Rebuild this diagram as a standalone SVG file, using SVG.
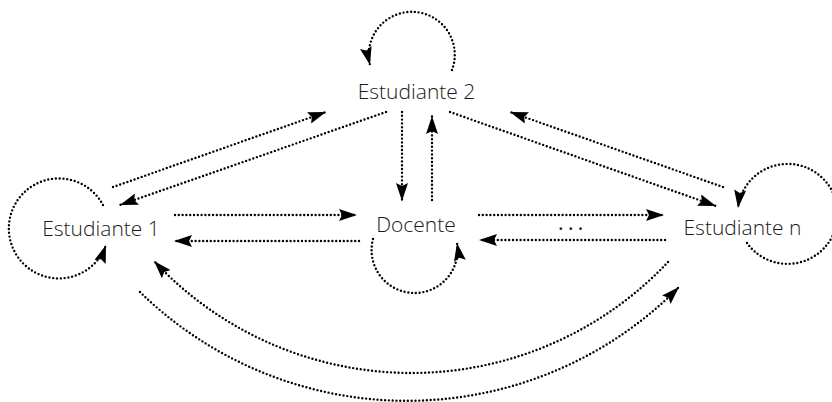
<svg xmlns="http://www.w3.org/2000/svg" width="832" height="402" viewBox="0 0 832 402">
  <style>
    .lbl { font-family: "Open Sans", "Noto Sans", "DejaVu Sans", sans-serif; font-weight: 300; font-size: 21px; fill: #1a1a1a; text-anchor: middle; }
    .dot { fill: none; stroke: #000; stroke-width: 2.4; stroke-linecap: round; stroke-dasharray: 0 3.8; }
    .arr { marker-end: url(#ah); }
  </style>
  <defs>
    <marker id="ah" viewBox="0 0 18 12" refX="18" refY="6" markerWidth="18" markerHeight="12" markerUnits="userSpaceOnUse" orient="auto">
      <path d="M0,0 L18,6 L0,12 L3,6 Z" fill="#000"/>
    </marker>
  </defs>
  <rect width="832" height="402" fill="#fff"/>
  <g id="connectors">
    <path class="dot arr" d="M113,187 L326,112"/>
    <path class="dot arr" d="M386,112 L120,205"/>
    <path class="dot arr" d="M175,215 L357,215"/>
    <path class="dot arr" d="M359,241 L174,241"/>
    <path class="dot arr" d="M479,215 L664,215"/>
    <path class="dot arr" d="M665,240 L479,240"/>
    <path class="dot arr" d="M402,112 L402,201"/>
    <path class="dot arr" d="M432,200 L432,116"/>
    <path class="dot arr" d="M450,112 L716,206"/>
    <path class="dot arr" d="M723,187 L510,112"/>
    <path class="dot arr" d="M103,205 A50,50 0 1 0 106,245"/>
    <path class="dot arr" d="M452,70 A43,43 0 1 0 370,65"/>
    <path class="dot arr" d="M373,239 A43,43 0 1 0 457,243"/>
    <path class="dot arr" d="M747,243 A50,50 0 1 0 738,208"/>
    <path class="dot arr" d="M668,262 A352,352 0 0 1 154,261"/>
    <path class="dot arr" d="M140,292 A382,382 0 0 0 679,287"/>
  </g>
  <g id="estudiante1"><text class="lbl" x="101" y="236">Estudiante 1</text></g>
  <g id="estudiante2"><text class="lbl" x="416.5" y="99">Estudiante 2</text></g>
  <g id="docente"><text class="lbl" x="416" y="232">Docente</text></g>
  <g id="estudianten"><text class="lbl" x="742.5" y="235">Estudiante n</text></g>
  <g id="ellipsis"><text class="lbl" x="558" y="230" style="text-anchor:start; letter-spacing:4.4px; font-weight:400">...</text></g>
</svg>
